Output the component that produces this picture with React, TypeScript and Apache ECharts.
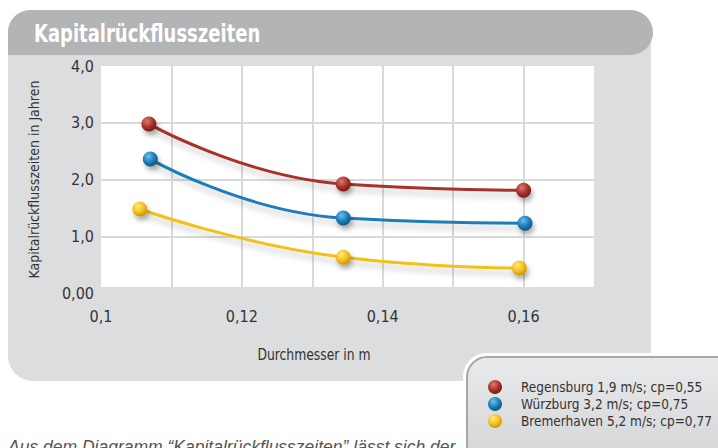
import React, { useEffect, useRef } from "react";
import * as echarts from "echarts";

const seriesNames = [
  "Regensburg 1,9 m/s; cp=0,55",
  "Würzburg 3,2 m/s; cp=0,75",
  "Bremerhaven 5,2 m/s; cp=0,77",
];
const regensburgX = [0.1068, 0.1344, 0.16];
const regensburgY = [2.98, 1.92, 1.81];
const wuerzburgX = [0.107, 0.1344, 0.1602];
const wuerzburgY = [2.36, 1.32, 1.23];
const bremerhavenX = [0.1055, 0.1344, 0.1594];
const bremerhavenY = [1.48, 0.63, 0.44];

const titleText = "Kapitalrückflusszeiten";
const yAxisTitle = "Kapitalrückflusszeiten in Jahren";
const xAxisTitle = "Durchmesser in m";
const footText = "Aus dem Diagramm “Kapitalrückflusszeiten” lässt sich der";

const NARROW = '"Liberation Sans Narrow", "Arial Narrow", "DejaVu Sans Condensed", sans-serif';
const REGULAR = '"Liberation Sans", Arial, sans-serif';

const palette = [
  { base: "#a8302a", light: "#e07a6e", dark: "#6e1712" },
  { base: "#1a7db8", light: "#6cc0ec", dark: "#0d4a73" },
  { base: "#f3c016", light: "#fde98a", dark: "#c48a00" },
];

function zip(xs: number[], ys: number[]) {
  return xs.map((x, i) => [x, ys[i]]);
}

export default function App() {
  const ref = useRef<HTMLDivElement>(null);
  useEffect(() => {
    if (!ref.current) return;
    const chart = echarts.init(ref.current, undefined, { renderer: "svg" });
    const datasets = [
      zip(regensburgX, regensburgY),
      zip(wuerzburgX, wuerzburgY),
      zip(bremerhavenX, bremerhavenY),
    ];
    const series = datasets.map((d, i) => ({
      name: seriesNames[i],
      type: "line",
      data: d,
      smooth: 0.5,
      symbol: "circle",
      symbolSize: 15,
      z: 3,
      lineStyle: {
        color: palette[i].base,
        width: 3,
        shadowColor: "rgba(0,0,0,0.22)",
        shadowBlur: 6,
        shadowOffsetY: 5,
        shadowOffsetX: 2,
      },
      itemStyle: {
        color: new echarts.graphic.RadialGradient(0.38, 0.32, 0.75, [
          { offset: 0, color: palette[i].light },
          { offset: 0.55, color: palette[i].base },
          { offset: 1, color: palette[i].dark },
        ]),
        shadowColor: "rgba(0,0,0,0.3)",
        shadowBlur: 5,
        shadowOffsetY: 4,
        shadowOffsetX: 2,
      },
      emphasis: { disabled: true },
    }));
    chart.setOption({
      animation: false,
      backgroundColor: "#ffffff",
      grid: {
        left: 101,
        top: 66,
        width: 493,
        height: 227,
        show: true,
        backgroundColor: "#ffffff",
        borderWidth: 0,
      },
      xAxis: {
        type: "value",
        min: 0.1,
        max: 0.17,
        interval: 0.01,
        axisLine: { show: true, lineStyle: { color: "#dcdddf", width: 12 } },
        axisTick: { show: false },
        axisLabel: {
          margin: 15,
          fontSize: 16,
          fontFamily: NARROW,
          color: "#333333",
          formatter: (v: number) => {
            const h = Math.round(v * 100);
            if (h % 2 !== 0 || h >= 17) return "";
            return String(h / 100).replace(".", ",");
          },
        },
        splitLine: {
          show: true,
          showMinLine: false,
          showMaxLine: false,
          lineStyle: { color: "#d9d9d9", width: 2 },
        },
      },
      yAxis: {
        type: "value",
        min: 0,
        max: 4,
        interval: 1,
        name: yAxisTitle,
        nameLocation: "middle",
        nameRotate: 90,
        nameGap: 60,
        nameTextStyle: { fontSize: 14, fontFamily: NARROW, color: "#333333" },
        axisLine: { show: false },
        axisTick: { show: false },
        axisLabel: {
          margin: 7,
          fontSize: 16,
          fontFamily: NARROW,
          color: "#333333",
          formatter: (v: number) => (v === 0 ? "0,00" : v.toFixed(1).replace(".", ",")),
        },
        splitLine: {
          show: true,
          showMaxLine: false,
          lineStyle: { color: "#d9d9d9", width: 2 },
        },
      },
      legend: {
        orient: "vertical",
        left: 488,
        top: 379,
        itemWidth: 14,
        itemHeight: 14,
        itemGap: 1,
        icon: "circle",
        selectedMode: false,
        z: 20,
        padding: 0,
        textStyle: {
          fontSize: 13.5,
          lineHeight: 16,
          fontFamily: NARROW,
          color: "#333333",
          padding: [0, 0, 0, 14],
        },
        data: seriesNames,
      },
      graphic: [
        {
          type: "rect",
          z: -100,
          shape: { x: 8, y: 32, width: 643, height: 349, r: [0, 0, 0, 25] },
          style: { fill: "#dcdddf" },
        },
        {
          type: "rect",
          z: -99,
          shape: { x: 8, y: 10, width: 645, height: 45, r: [22, 22.5, 22.5, 0] },
          style: { fill: "#b3b4b6" },
        },
        {
          type: "text",
          z: -98,
          x: 34,
          y: 33,
          scaleX: 0.8,
          style: {
            text: titleText,
            fill: "#ffffff",
            font: `bold 25px ${NARROW}`,
            textVerticalAlign: "middle",
          },
        },
        {
          type: "text",
          z: -98,
          x: 314,
          y: 355,
          scaleX: 0.86,
          style: {
            text: xAxisTitle,
            fill: "#333333",
            font: `16px ${NARROW}`,
            textAlign: "center",
            textVerticalAlign: "middle",
          },
        },
        {
          type: "rect",
          z: 10,
          shape: { x: 463, y: 353, width: 280, height: 120, r: 24 },
          style: { fill: "#ffffff" },
        },
        {
          type: "rect",
          z: 11,
          shape: { x: 467, y: 357, width: 270, height: 110, r: 20 },
          style: {
            fill: new echarts.graphic.LinearGradient(0, 0, 0, 1, [
              { offset: 0, color: "#e9eaec" },
              { offset: 1, color: "#d3d4d6" },
            ]),
            stroke: "#a6a7a9",
            lineWidth: 2,
          },
        },
        {
          type: "text",
          z: -98,
          x: 8,
          y: 438,
          style: {
            text: footText,
            fill: "#555555",
            font: `italic 17.5px ${REGULAR}`,
            textVerticalAlign: "top",
          },
        },
      ],
      series,
    });
    return () => chart.dispose();
  }, []);
  return (
    <div
      ref={ref}
      style={{ position: "fixed", left: 0, top: 0, width: 718, height: 448 }}
    />
  );
}
